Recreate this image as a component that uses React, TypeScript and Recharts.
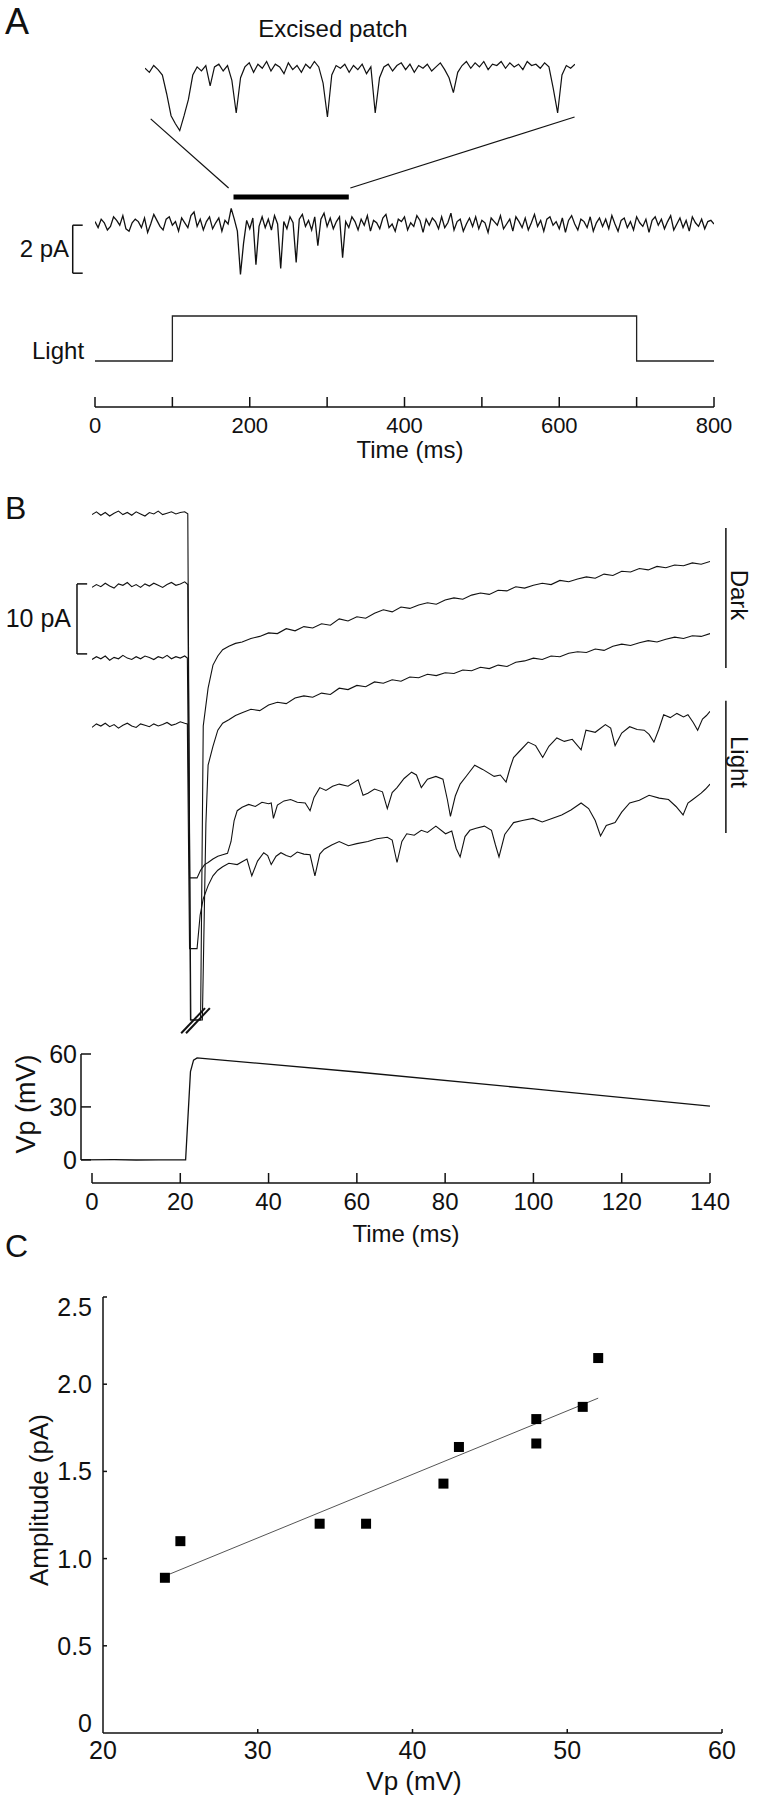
import { ComposedChart, Line, XAxis, YAxis, ReferenceLine, Scatter } from 'recharts'

const FONT = '"Liberation Sans", Arial, Helvetica, sans-serif'
const INK = '#111'

// ── Panel A: excised patch recording ─────────────────────────────────────────

// main trace, one value every 4 ms from 0 to 800 ms (pA)
const mainStepMs = 4
const mainTrace = [
  0.1, -0.15, 0.2, 0.05, -0.25, -0.1, 0.3, 0.15, -0.05, 0.35, -0.2, -0.3, 0.05, 0.2, 0.1, -0.15, 0.25, -0.35, 0.0, 0.4,
  0.15, -0.1, -0.25, 0.2, 0.3, -0.05, 0.1, -0.3, 0.25, 0.05, -0.15, 0.35, 0.5, -0.1, 0.2, -0.25, 0.1, 0.3, -0.2, 0.05,
  0.25, -0.3, 0.15, 0.0, 0.65, 0.2, -0.3,
  -2.1, -0.8, 0.15, -0.2, 0.25, -1.7, -0.1, 0.3, -0.15, 0.2, -0.25, 0.35, 0.0, -1.85, 0.1, -0.2, 0.3, 0.05, -1.6,
  0.2, 0.4, -0.1, 0.15, -0.25, 0.3, -0.9, 0.2, 0.45, -0.1, 0.25, -0.2, 0.1, 0.3, -1.4, 0.1, -0.15,
  0.3, 0.1, -0.25, 0.2, -0.05, 0.35, -0.3, 0.15, 0.05, -0.2,
  0.25, 0.4, -0.15, 0.0, -0.3, 0.2, 0.1, 0.3, -0.25, 0.05,
  -0.1, 0.35, 0.15, -0.35, 0.2, -0.05, 0.25, 0.1, -0.2, 0.3,
  -0.15, 0.05, 0.45, -0.25, 0.1, 0.2, -0.3, 0.0, 0.25, -0.1,
  0.3, -0.2, 0.15, 0.05, -0.35, 0.25, 0.1, -0.05, 0.35, -0.2,
  0.0, 0.2, -0.3, 0.3, 0.1, -0.15, 0.25, -0.25, 0.05, 0.4,
  -0.1, 0.15, -0.3, 0.2, 0.3, -0.05, 0.1, -0.2, 0.25, -0.35,
  0.15, 0.35, 0.0, -0.25, 0.2, 0.1, -0.15, 0.3, -0.3, 0.05,
  0.25, -0.1, 0.2, -0.2, 0.35, 0.0, -0.3, 0.15, 0.25, -0.15,
  0.1, -0.25, 0.3, 0.05, -0.1, 0.2, -0.35, 0.15, 0.3, -0.05,
  0.2, -0.2, 0.1, 0.35, -0.25, 0.0, 0.25, -0.15, 0.15, -0.3,
  0.3, 0.05, -0.1, 0.2, -0.2, 0.1, 0.15, 0.0,
]

// magnified stretch 179–328 ms, one value every 1.5 ms (pA)
const insetStart = 179
const insetStepMs = 1.5
const insetTrace = [
  0.05, -0.1, 0.15, 0.0, -0.2, -0.9, -1.7, -2.0, -2.25, -1.7,
  -1.1, -0.2, 0.1, -0.05, 0.15, -0.6, 0.1, 0.2, -0.05, 0.15,
  -0.4, -1.6, -0.3, 0.1, 0.25, -0.1, 0.2, 0.05, 0.3, -0.05,
  0.2, 0.1, -0.15, 0.25, 0.0, 0.15, -0.1, 0.2, 0.05, 0.3,
  0.1, -0.5, -1.75, -0.2, 0.15, 0.05, 0.2, -0.1, 0.15, 0.0,
  0.2, -0.15, 0.1, -1.6, -0.3, 0.1, 0.2, -0.05, 0.15, 0.25,
  0.0, 0.2, -0.1, 0.15, 0.05, 0.2, -0.05, 0.1, 0.25, 0.0,
  -0.3, -0.85, -0.1, 0.15, 0.3, 0.05, 0.25, 0.1, 0.3, 0.0,
  0.2, 0.15, 0.3, 0.05, 0.25, 0.1, 0.2, 0.0, 0.3, 0.15,
  0.2, 0.05, 0.25, 0.1, -0.7, -1.6, -0.2, 0.15, 0.05, 0.2,
]

const lightTimes = [0, 100, 100, 700, 700, 800]
const lightLevels = [0, 0, 1, 1, 0, 0]
const barSpan = [179, 328] // ms, magnified stretch
const barLevel = 1.125
const zoomLeft = [[72, 4.38], [172.7, 1.5]]
const zoomRight = [[619.8, 4.46], [330, 1.5]]
const ticksA = [0, 100, 200, 300, 400, 500, 600, 700, 800]

// ── Panel B: currents (pA) and patch voltage ─────────────────────────────────

const dark1 = [
  [0, 30.2], [1, 30.6], [2, 30.1], [3, 30.5], [4, 30.0], [5, 30.4], [6, 30.7], [7, 30.2], [8, 30.5], [9, 30.1],
  [10, 30.6], [11, 30.3], [12, 30.0], [13, 30.5], [14, 30.3], [15, 30.7], [16, 30.2], [17, 30.4], [18, 30.6], [19, 30.3],
  [20, 30.5], [21, 30.6], [21.7, 30.3], [22.3, -42], [24.6, -42], [25.2, 0], [26.3, 5.4], [27.4, 8.7], [28.5, 10.0],
  [29.6, 10.9], [31, 11.4], [32.5, 11.8], [34, 12.0], [36, 12.5], [38, 12.8], [40, 13.3], [42, 13.2], [44, 13.9],
  [46, 13.6], [48, 14.2], [50, 14.0], [52, 14.6], [54, 14.4], [56, 15.3], [58, 15.0], [60, 15.6], [62, 15.4], [64, 16.1],
  [66, 16.6], [68, 16.3], [70, 17.0], [72, 16.8], [74, 17.3], [76, 17.6], [78, 17.4], [80, 18.0], [82, 18.3], [84, 18.1],
  [86, 18.7], [88, 19.0], [90, 18.8], [92, 19.4], [94, 19.3], [96, 19.9], [98, 19.7], [100, 20.1], [102, 20.4],
  [104, 20.2], [106, 20.8], [108, 20.6], [110, 21.0], [112, 21.3], [114, 21.1], [116, 21.7], [118, 21.5], [120, 22.1],
  [122, 22.0], [124, 22.5], [126, 22.3], [128, 22.8], [130, 22.6], [132, 23.0], [134, 22.9], [136, 23.3], [138, 23.1],
  [140, 23.5],
]
const dark2 = [
  [0, 19.8], [1, 20.2], [2, 19.9], [3, 20.4], [4, 20.0], [5, 19.7], [6, 20.3], [7, 20.1], [8, 20.5], [9, 19.9],
  [10, 20.2], [11, 19.8], [12, 20.3], [13, 20.0], [14, 20.4], [15, 20.1], [16, 19.8], [17, 20.2], [18, 20.5], [19, 20.1],
  [20, 20.3], [21, 20.6], [21.7, 20.2], [22.4, -42], [25.0, -42], [25.8, -14], [26.3, -5.6], [27.4, -2.9], [28.5, -0.6],
  [29.6, 0.4], [31, 0.9], [32.5, 1.5], [34, 1.9], [36, 2.4], [38, 2.2], [40, 3.0], [42, 3.4], [44, 3.2], [46, 4.0],
  [48, 4.3], [50, 4.1], [52, 4.7], [54, 4.5], [56, 5.4], [58, 5.2], [60, 5.8], [62, 5.6], [64, 6.3], [66, 6.1], [68, 6.6],
  [70, 6.4], [72, 7.0], [74, 6.9], [76, 7.4], [78, 7.2], [80, 7.6], [82, 7.5], [84, 8.0], [86, 7.9], [88, 8.4], [90, 8.2],
  [92, 8.7], [94, 8.5], [96, 9.1], [98, 9.3], [100, 9.7], [102, 9.5], [104, 10.0], [106, 9.9], [108, 10.4], [110, 10.6],
  [112, 10.5], [114, 11.0], [116, 10.8], [118, 11.4], [120, 11.7], [122, 11.5], [124, 11.9], [126, 12.2], [128, 12.0],
  [130, 12.4], [132, 12.7], [134, 12.5], [136, 12.9], [138, 12.8], [140, 13.2],
]
const light1 = [
  [0, 9.5], [1, 9.9], [2, 9.6], [3, 10.0], [4, 9.4], [5, 9.8], [6, 9.6], [7, 10.1], [8, 9.7], [9, 9.5],
  [10, 9.9], [11, 9.6], [12, 10.0], [13, 9.8], [14, 9.5], [15, 9.9], [16, 9.7], [17, 10.1], [18, 9.6], [19, 9.9],
  [20, 9.7], [21, 10.0], [21.6, 9.7], [22.1, -21.7], [23.8, -21.7], [24.6, -20.6], [25.5, -19.8], [26.3, -19.5],
  [27.4, -19.0], [28.5, -18.6], [29.6, -18.4], [30.7, -18.2], [31.5, -16.5], [32.2, -13.5], [32.9, -12.1], [34, -11.6],
  [35.5, -11.2], [37, -11.5], [38.5, -10.9], [40, -11.1], [40.6, -11.0], [41.1, -13.2], [42, -11.3], [43.5, -10.7],
  [45, -10.5], [46.5, -10.9], [48.3, -11.0], [49.4, -12.1], [50.3, -10.2], [51.6, -8.8], [53, -9.2], [54.5, -8.6],
  [56, -8.3], [58, -8.6], [60.3, -7.7], [61.4, -9.9], [62.5, -9.6], [64, -9.0], [65.8, -9.4], [66.9, -11.8], [68, -9.5],
  [69.1, -8.8], [70.7, -7.5], [72.4, -6.6], [73.5, -7.0], [74.6, -8.8], [76, -7.6], [77.9, -7.2], [79.5, -7.6],
  [80.5, -10.5], [81.2, -12.9], [82.3, -10.0], [83.4, -8.3], [85, -7.0], [86.7, -5.6], [88.5, -6.2], [91.1, -7.2],
  [92.5, -7.0], [93.8, -8.0], [94.7, -6.0], [95.5, -4.5], [97, -3.5], [98.8, -2.3], [100.5, -2.8], [102.1, -4.5],
  [103.5, -2.9], [105.3, -1.7], [107, -2.2], [108.8, -1.9], [110.8, -3.4], [111.9, -0.6], [114, -0.9], [116.3, 0.2],
  [117.5, -0.3], [118.5, -2.8], [120, -1.0], [121.8, -0.1], [123.5, -0.5], [125.1, -0.6], [126.2, -1.2], [127.3, -2.3],
  [128.4, -0.5], [129.5, 1.6], [131, 1.2], [132.5, 1.8], [134, 1.3], [135, 1.6], [136.2, 0.5], [137.2, -0.6],
  [138.3, 1.0], [139.2, 1.5], [140, 2.1],
]
const light2 = [
  [0, -0.2], [1, 0.3], [2, 0.0], [3, 0.4], [4, -0.1], [5, 0.2], [6, -0.3], [7, 0.1], [8, 0.4], [9, 0.0],
  [10, -0.2], [11, 0.3], [12, 0.1], [13, -0.1], [14, 0.3], [15, 0.0], [16, 0.2], [17, 0.5], [18, 0.1], [19, 0.3],
  [20, 0.6], [21, 0.4], [21.6, 0.3], [22.1, -31.8], [23.8, -31.8], [24.5, -27], [25.2, -24.7], [26.3, -22.8],
  [27.4, -21.4], [28.5, -20.6], [29.6, -20.1], [31, -19.6], [32.9, -19.8], [34, -19.4], [35.1, -19.0], [36.2, -21.4],
  [37.5, -19.3], [38.9, -18.1], [39.8, -18.5], [40.6, -19.8], [41.7, -18.6], [42.8, -18.1], [44, -18.5], [45, -18.7],
  [46.5, -18.0], [48, -18.3], [49.4, -18.4], [50.5, -21.4], [51.6, -18.3], [52.6, -17.6], [54.3, -17.0], [56, -16.5],
  [58.1, -17.1], [60, -16.8], [62.5, -16.5], [64.5, -16.1], [66.9, -15.9], [68, -16.3], [69.1, -19.5], [70.2, -16.5],
  [71.3, -15.4], [73, -15.6], [74.6, -14.9], [76, -15.2], [77.9, -14.3], [80.1, -15.4], [81.5, -15.0], [82.5, -17.5],
  [83.4, -18.7], [84.5, -15.8], [85.6, -14.9], [87, -14.6], [88.9, -14.3], [90.5, -14.9], [91.4, -17.0], [92.2, -18.7],
  [93.5, -15.5], [95.5, -13.8], [97.5, -13.5], [99.9, -13.2], [102, -13.7], [104.2, -13.2], [106.4, -12.7],
  [108.5, -12.0], [110.8, -11.0], [112.5, -11.8], [114, -13.5], [115.2, -15.7], [116.5, -14.2], [118.5, -13.8],
  [120, -12.3], [121.8, -11.0], [124, -10.6], [126.2, -9.9], [128.5, -10.3], [130.6, -10.5], [132.3, -11.5],
  [133.9, -12.7], [135, -11.0], [136.1, -10.5], [138, -9.6], [139, -9.0], [140, -8.3],
]
const breakMark1 = [[20.2, -43.9], [25.6, -40.3]]
const breakMark2 = [[21.3, -43.9], [26.7, -40.3]]

const vpTrace = [
  [-2.5, 0], [5, 0.1], [10, -0.1], [15, 0], [21.2, 0], [22.3, 50], [23, 56.5], [23.8, 57.8],
  [25, 57.5], [60, 49.8], [100, 40.2], [140, 30.5],
]
const ticksB = [0, 20, 40, 60, 80, 100, 120, 140]
const ticksVp = [0, 30, 60]

// ── Panel C: amplitude vs Vp ─────────────────────────────────────────────────

const vp = [24, 25, 34, 37, 42, 43, 48, 48, 51, 52]
const amp = [0.89, 1.1, 1.2, 1.2, 1.43, 1.64, 1.8, 1.66, 1.87, 2.15]
const fitVp = [24, 52]
const fitAmp = [0.9, 1.92]
const ticksCx = [20, 30, 40, 50, 60]
const ticksCy = [0, 0.5, 1, 1.5, 2, 2.5]

const pairs = (p: number[][]) => p.map(([t, v]) => ({ t, v }))

// ── Axis ticks ───────────────────────────────────────────────────────────────

// eslint-disable-next-line @typescript-eslint/no-explicit-any
function UpTick({ x, y, payload, len, size, dy, fmt }: any) {
  const v = payload.value
  const l = len(v)
  const label = fmt(v)
  return (
    <g>
      {l > 0 && <line x1={x} x2={x} y1={y} y2={y - l} stroke={INK} strokeWidth={1.5} />}
      {label !== '' && (
        <text x={x} y={y + dy} textAnchor="middle" fontSize={size} fontFamily={FONT} fill={INK}>
          {label}
        </text>
      )}
    </g>
  )
}

// eslint-disable-next-line @typescript-eslint/no-explicit-any
function RightTick({ x, y, payload, len, size, gap, fmt, shift }: any) {
  const v = payload.value
  const l = len(v)
  return (
    <g>
      {l > 0 && <line x1={x} x2={x + l} y1={y} y2={y} stroke={INK} strokeWidth={1.5} />}
      <text x={x - gap} y={y + size * 0.36 + shift(v)} textAnchor="end" fontSize={size} fontFamily={FONT} fill={INK}>
        {fmt(v)}
      </text>
    </g>
  )
}

const seg = (p: number[][]) => [{ x: p[0][0], y: p[0][1] }, { x: p[1][0], y: p[1][1] }]

export default function App() {
  const mainData = mainTrace.map((v, i) => ({ t: i * mainStepMs, v }))
  const insetData = insetTrace.map((v, i) => ({ t: insetStart + i * insetStepMs, v }))
  const lightData = lightTimes.map((t, i) => ({ t, v: lightLevels[i] }))
  const barData = barSpan.map(t => ({ t, v: barLevel }))
  const scatterData = vp.map((v, i) => ({ v, a: amp[i] }))
  const fitData = fitVp.map((v, i) => ({ v, a: fitAmp[i] }))

  const text = { fontFamily: FONT, fill: INK }

  return (
    <div style={{ position: 'absolute', left: 0, top: 0, width: 758, height: 1800, background: '#fff' }}>

      {/* ── A: magnified inset ─────────────────────────────────────────── */}
      <div style={{ position: 'absolute', left: 0, top: 0 }}>
        <ComposedChart width={758} height={150} margin={{ top: 52, right: 183, bottom: 14, left: 145 }}>
          <XAxis dataKey="t" type="number" domain={[179, 327.5]} hide allowDataOverflow />
          <YAxis type="number" domain={[-2.45, 0.65]} hide allowDataOverflow />
          <Line data={insetData} dataKey="v" type="linear" stroke={INK} strokeWidth={1.2} dot={false} isAnimationActive={false} />
        </ComposedChart>
      </div>

      {/* ── A: full trace, light step, time axis ───────────────────────── */}
      <div style={{ position: 'absolute', left: 0, top: 0 }}>
        <ComposedChart width={758} height={447} margin={{ top: 96, right: 44, bottom: 0, left: 95 }}>
          <XAxis
            dataKey="t" type="number" domain={[0, 800]} ticks={ticksA} interval={0} allowDataOverflow
            height={40} tickSize={0} tickMargin={0} stroke={INK} strokeWidth={1.5}
            tick={(p) => <UpTick {...p} len={() => 10} size={22} dy={26} fmt={(v: number) => (v % 200 === 0 ? String(v) : '')} />}
          />
          <YAxis yAxisId="pA" type="number" domain={[-7.625, 5.333]} hide allowDataOverflow />
          <YAxis yAxisId="light" type="number" domain={[-1.022, 5.889]} hide allowDataOverflow />

          <Line yAxisId="pA" data={pairs(zoomLeft)} dataKey="v" stroke={INK} strokeWidth={1.2} dot={false} isAnimationActive={false} />
          <Line yAxisId="pA" data={pairs(zoomRight)} dataKey="v" stroke={INK} strokeWidth={1.2} dot={false} isAnimationActive={false} />
          <Line yAxisId="pA" data={barData} dataKey="v" stroke="#000" strokeWidth={5} dot={false} isAnimationActive={false} />
          <Line yAxisId="pA" data={mainData} dataKey="v" type="linear" stroke={INK} strokeWidth={1.3} dot={false} isAnimationActive={false} />
          <Line yAxisId="light" data={lightData} dataKey="v" type="linear" stroke="#222" strokeWidth={1.3} dot={false} isAnimationActive={false} />

          {/* 2 pA scale bar */}
          <ReferenceLine yAxisId="pA" ifOverflow="visible" stroke={INK} strokeWidth={1.5} segment={seg([[-15.9, -0.05], [-28.8, -0.05]])} />
          <ReferenceLine yAxisId="pA" ifOverflow="visible" stroke={INK} strokeWidth={1.5} segment={seg([[-28.8, -0.05], [-28.8, -2.05]])} />
          <ReferenceLine yAxisId="pA" ifOverflow="visible" stroke={INK} strokeWidth={1.5} segment={seg([[-28.8, -2.05], [-15.9, -2.05]])} />
        </ComposedChart>
      </div>

      {/* ── B: current traces ──────────────────────────────────────────── */}
      <div style={{ position: 'absolute', left: 0, top: 480 }}>
        <ComposedChart width={758} height={743} margin={{ top: 20, right: 48, bottom: 0, left: 92 }}>
          <XAxis
            dataKey="t" type="number" domain={[0, 140]} ticks={ticksB} interval={0} allowDataOverflow
            height={40} tickSize={0} tickMargin={0} stroke={INK} strokeWidth={1.5}
            tick={(p) => <UpTick {...p} len={() => 10} size={24} dy={27} fmt={(v: number) => String(v)} />}
          />
          <YAxis type="number" domain={[-65.286, 32.286]} hide allowDataOverflow />

          {[dark1, dark2, light1, light2].map((tr, i) => (
            <Line key={i} data={pairs(tr)} dataKey="v" type="linear" stroke={INK} strokeWidth={1.1} dot={false} isAnimationActive={false} />
          ))}
          <Line data={pairs(breakMark1)} dataKey="v" stroke={INK} strokeWidth={2} dot={false} isAnimationActive={false} />
          <Line data={pairs(breakMark2)} dataKey="v" stroke={INK} strokeWidth={2} dot={false} isAnimationActive={false} />

          {/* 10 pA scale bar */}
          <ReferenceLine ifOverflow="visible" stroke={INK} strokeWidth={1.5} segment={seg([[-1.1, 20.3], [-3.4, 20.3]])} />
          <ReferenceLine ifOverflow="visible" stroke={INK} strokeWidth={1.5} segment={seg([[-3.4, 20.3], [-3.4, 10.3]])} />
          <ReferenceLine ifOverflow="visible" stroke={INK} strokeWidth={1.5} segment={seg([[-3.4, 10.3], [-1.1, 10.3]])} />
          {/* Dark / Light brackets */}
          <ReferenceLine ifOverflow="visible" stroke={INK} strokeWidth={1.5} segment={seg([[143.6, 28.3], [143.6, 8.3]])} />
          <ReferenceLine ifOverflow="visible" stroke={INK} strokeWidth={1.5} segment={seg([[143.6, 3.6], [143.6, -15.3]])} />
        </ComposedChart>
      </div>

      {/* ── B: patch voltage ───────────────────────────────────────────── */}
      <div style={{ position: 'absolute', left: 0, top: 1040 }}>
        <ComposedChart width={758} height={150} margin={{ top: 14, right: 48, bottom: 30, left: 0 }}>
          <XAxis dataKey="t" type="number" domain={[-2.5, 140]} hide allowDataOverflow />
          <YAxis
            type="number" domain={[0, 60]} ticks={ticksVp} interval={0} width={81}
            tickSize={0} tickMargin={0} stroke={INK} strokeWidth={1.5}
            tick={(p) => <RightTick {...p} len={() => 10} size={25} gap={4} fmt={(v: number) => String(v)} shift={() => 0} />}
          />
          <Line data={pairs(vpTrace)} dataKey="v" type="linear" stroke={INK} strokeWidth={1.3} dot={false} isAnimationActive={false} />
        </ComposedChart>
      </div>

      {/* ── C: amplitude vs Vp ─────────────────────────────────────────── */}
      <div style={{ position: 'absolute', left: 0, top: 1280 }}>
        <ComposedChart width={758} height={513} margin={{ top: 17, right: 36, bottom: 0, left: 0 }}>
          <XAxis
            dataKey="v" type="number" domain={[20, 60]} ticks={ticksCx} interval={0}
            height={60} tickSize={0} tickMargin={0} stroke={INK} strokeWidth={1.5}
            tick={(p) => <UpTick {...p} len={(v: number) => (v === 20 ? 0 : 4)} size={25} dy={26} fmt={(v: number) => String(v)} />}
          />
          <YAxis
            dataKey="a" type="number" domain={[0, 2.5]} ticks={ticksCy} interval={0} width={103}
            tickSize={0} tickMargin={0} stroke={INK} strokeWidth={1.5}
            tick={(p) => (
              <RightTick
                {...p} len={(v: number) => (v === 0 ? 0 : 4)} size={25} gap={11}
                fmt={(v: number) => (v === 0 ? '0' : v.toFixed(1))}
                shift={(v: number) => (v === 0 ? -10 : v === 2.5 ? 10 : 0)}
              />
            )}
          />
          <Line data={fitData} dataKey="a" type="linear" stroke="#555" strokeWidth={1} dot={false} isAnimationActive={false} />
          <Scatter
            data={scatterData} dataKey="a" isAnimationActive={false}
            shape={(p: { cx?: number; cy?: number }) => (
              <rect x={(p.cx ?? 0) - 5} y={(p.cy ?? 0) - 5} width={10} height={10} fill="#000" />
            )}
          />
        </ComposedChart>
      </div>

      {/* ── Labels ─────────────────────────────────────────────────────── */}
      <svg width={758} height={1800} style={{ position: 'absolute', left: 0, top: 0, pointerEvents: 'none' }}>
        <text x={5} y={34} fontSize={36} {...text}>A</text>
        <text x={333} y={37} fontSize={24} textAnchor="middle" {...text}>Excised patch</text>
        <text x={69} y={257} fontSize={24} textAnchor="end" {...text}>2 pA</text>
        <text x={32} y={359} fontSize={24} {...text}>Light</text>
        <text x={410} y={458} fontSize={24} textAnchor="middle" {...text}>Time (ms)</text>

        <text x={5} y={519} fontSize={32} {...text}>B</text>
        <text x={71} y={627} fontSize={25} textAnchor="end" {...text}>10 pA</text>
        <text transform="translate(731,595) rotate(90)" fontSize={24} textAnchor="middle" {...text}>Dark</text>
        <text transform="translate(731,762) rotate(90)" fontSize={24} textAnchor="middle" {...text}>Light</text>
        <text transform="translate(35,1104) rotate(-90)" fontSize={27} textAnchor="middle" {...text}>Vp (mV)</text>
        <text x={406} y={1242} fontSize={24} textAnchor="middle" {...text}>Time (ms)</text>

        <text x={5} y={1257} fontSize={32} {...text}>C</text>
        <text transform="translate(48,1500) rotate(-90)" fontSize={26} textAnchor="middle" {...text}>Amplitude (pA)</text>
        <text x={414} y={1790} fontSize={26} textAnchor="middle" {...text}>Vp (mV)</text>
      </svg>
    </div>
  )
}
